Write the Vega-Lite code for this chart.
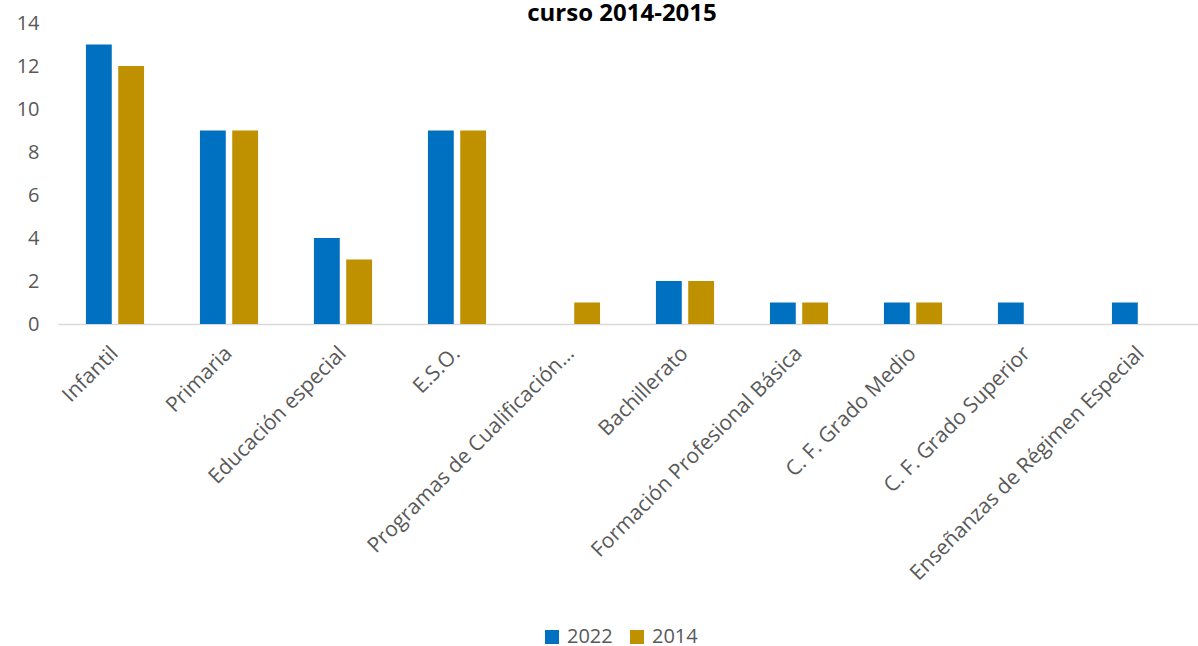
{
  "$schema": "https://vega.github.io/schema/vega-lite/v6.json",
  "autosize": {"type": "none"},
  "width": 1140,
  "height": 301,
  "padding": {"left": 58, "top": 23, "right": 0, "bottom": 322},
  "background": "white",
  "title": {
    "text": "curso 2014-2015",
    "font": "Open Sans",
    "fontSize": 24,
    "fontWeight": "bold",
    "color": "#000000",
    "anchor": "middle",
    "frame": "group",
    "baseline": "alphabetic",
    "offset": -32,
    "dx": -6
  },
  "data": {
    "values": [
      {"nivel": "Infantil", "serie": "2022", "valor": 13},
      {"nivel": "Infantil", "serie": "2014", "valor": 12},
      {"nivel": "Primaria", "serie": "2022", "valor": 9},
      {"nivel": "Primaria", "serie": "2014", "valor": 9},
      {"nivel": "Educación especial", "serie": "2022", "valor": 4},
      {"nivel": "Educación especial", "serie": "2014", "valor": 3},
      {"nivel": "E.S.O.", "serie": "2022", "valor": 9},
      {"nivel": "E.S.O.", "serie": "2014", "valor": 9},
      {"nivel": "Programas de Cualificación Profesional Inicial", "serie": "2014", "valor": 1},
      {"nivel": "Bachillerato", "serie": "2022", "valor": 2},
      {"nivel": "Bachillerato", "serie": "2014", "valor": 2},
      {"nivel": "Formación Profesional Básica", "serie": "2022", "valor": 1},
      {"nivel": "Formación Profesional Básica", "serie": "2014", "valor": 1},
      {"nivel": "C. F. Grado Medio", "serie": "2022", "valor": 1},
      {"nivel": "C. F. Grado Medio", "serie": "2014", "valor": 1},
      {"nivel": "C. F. Grado Superior", "serie": "2022", "valor": 1},
      {"nivel": "Enseñanzas de Régimen Especial", "serie": "2022", "valor": 1}
    ]
  },
  "mark": {"type": "bar"},
  "encoding": {
    "x": {
      "field": "nivel",
      "type": "nominal",
      "sort": null,
      "scale": {"paddingInner": 0.49, "paddingOuter": 0.245},
      "axis": {
        "title": null,
        "labelAngle": -45,
        "labelAlign": "right",
        "labelBaseline": "middle",
        "labelFont": "Open Sans",
        "labelFontSize": 21,
        "labelColor": "#595959",
        "labelLimit": 500,
        "labelPadding": 26,
        "ticks": false,
        "domain": true,
        "domainColor": "#D9D9D9",
        "domainWidth": 1.5,
        "labelExpr": "datum.label == 'Programas de Cualificación Profesional Inicial' ? 'Programas de Cualificación…' : datum.label"
      }
    },
    "xOffset": {
      "field": "serie",
      "type": "nominal",
      "sort": ["2022", "2014"],
      "scale": {"paddingInner": 0.2}
    },
    "y": {
      "field": "valor",
      "type": "quantitative",
      "scale": {"domain": [0, 14]},
      "axis": {
        "title": null,
        "values": [0, 2, 4, 6, 8, 10, 12, 14],
        "grid": false,
        "domain": false,
        "ticks": false,
        "labelFont": "Open Sans",
        "labelFontSize": 20,
        "labelColor": "#595959",
        "labelPadding": 19
      }
    },
    "color": {
      "field": "serie",
      "type": "nominal",
      "sort": ["2022", "2014"],
      "scale": {"domain": ["2022", "2014"], "range": ["#0070C0", "#BF9000"]},
      "legend": {
        "title": null,
        "orient": "none",
        "direction": "horizontal",
        "legendX": 484,
        "legendY": 604,
        "symbolType": "square",
        "symbolSize": 196,
        "symbolStrokeWidth": 0,
        "labelFont": "Open Sans",
        "labelFontSize": 20,
        "labelColor": "#595959",
        "columnPadding": 14,
        "labelOffset": 5
      }
    }
  },
  "config": {"view": {"stroke": null}}
}
